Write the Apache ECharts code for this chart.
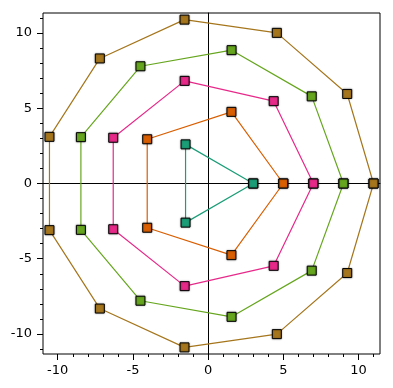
<!DOCTYPE html>
<html><head><meta charset="utf-8">
<script src="https://cdn.jsdelivr.net/npm/echarts@6/dist/echarts.min.js"></script>
<style>html,body{margin:0;padding:0;background:#fff}#c{width:393px;height:388px}</style>
</head><body><div id="c"></div>
<script>
// Polygon vertices (closed: first point repeated)
var triangle = [[3,0],[-1.5,2.6],[-1.5,-2.6],[3,0]];
var pentagon = [[5,0],[1.55,4.76],[-4.05,2.94],[-4.05,-2.94],[1.55,-4.76],[5,0]];
var heptagon = [[7,0],[4.36,5.47],[-1.56,6.82],[-6.31,3.04],[-6.31,-3.04],[-1.56,-6.82],[4.36,-5.47],[7,0]];
var nonagon = [[9,0],[6.89,5.79],[1.56,8.86],[-4.5,7.79],[-8.46,3.08],[-8.46,-3.08],[-4.5,-7.79],[1.56,-8.86],[6.89,-5.79],[9,0]];
var hendecagon = [[11,0],[9.25,5.95],[4.57,10.01],[-1.57,10.89],[-7.2,8.31],[-10.55,3.1],[-10.55,-3.1],[-7.2,-8.31],[-1.57,-10.89],[4.57,-10.01],[9.25,-5.95],[11,0]];
var tickValues = [-10,-5,0,5,10];
var colors = ['#1b9e77','#d95f02','#e7298a','#66a61e','#a6761d'];
var polys = [triangle, pentagon, heptagon, nonagon, hendecagon];
var xMin = -10.98, xMax = 11.43, yMin = -11.33, yMax = 11.33;

var chart = echarts.init(document.getElementById('c'));
var font = {fontFamily:'DejaVu Sans', fontSize:13, color:'#000'};
function axis(min,max,pos){
  return {
    type:'value', min:min, max:max, position:pos, splitNumber:4,
    axisLine:{show:false, onZero:false},
    splitLine:{show:false},
    axisTick:{show:true, inside:false, length:6, customValues:tickValues, lineStyle:{color:'#000',width:1}},
    minorTick:{show:true, splitNumber:5, length:3, lineStyle:{color:'#000',width:1}},
    axisLabel:Object.assign({customValues:tickValues, margin:pos==='left'?11:10, showMinLabel:true, showMaxLabel:true}, font)
  };
}
function zeroAxis(min,max,pos){
  return {
    type:'value', min:min, max:max, position:pos,
    axisLine:{show:true, onZero:true, onZeroAxisIndex:0, lineStyle:{color:'#000', width:1}},
    axisTick:{show:false}, minorTick:{show:false}, axisLabel:{show:false}, splitLine:{show:false}
  };
}
var series = [];
polys.forEach(function(p,i){
  series.push({
    type:'line', data:p, z:2+i, symbol:'rect', symbolSize:9,
    lineStyle:{color:colors[i], width:1.2},
    itemStyle:{color:colors[i], borderColor:'#000', borderWidth:1, shadowBlur:2, shadowColor:'rgba(0,0,0,0.35)'},
    animation:false
  });
});
chart.setOption({
  animation:false,
  grid:{left:43, top:13, width:337, height:341, show:true, borderColor:'#000', borderWidth:1, backgroundColor:'transparent'},
  xAxis:[axis(xMin,xMax,'bottom'), zeroAxis(xMin,xMax,'top')],
  yAxis:[axis(yMin,yMax,'left'), zeroAxis(yMin,yMax,'right')],
  series:series
});
</script></body></html>
